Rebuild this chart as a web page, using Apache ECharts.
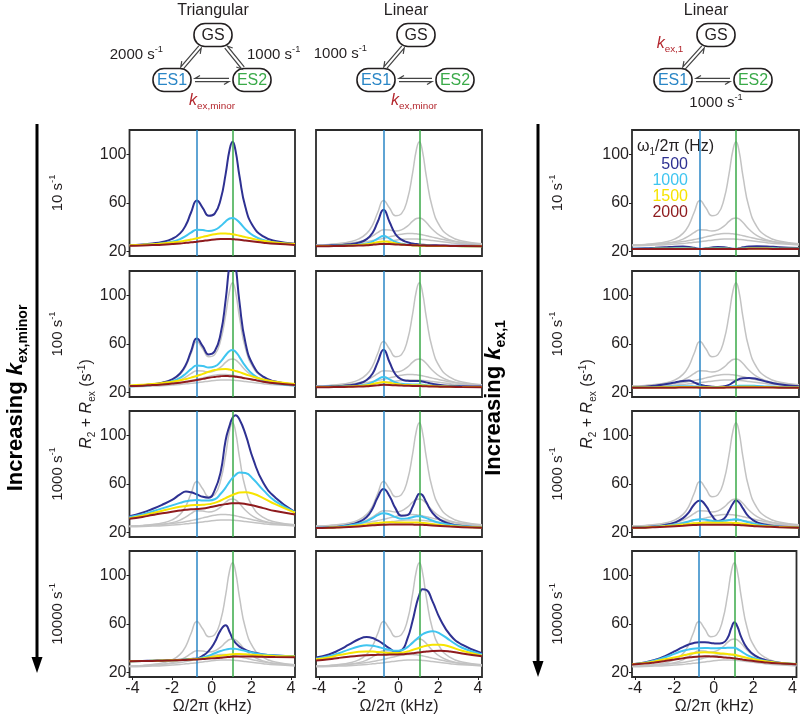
<!DOCTYPE html>
<html>
<head>
<meta charset="utf-8">
<script src="https://cdn.jsdelivr.net/npm/echarts@6/dist/echarts.min.js"></script>
<style>
html, body { margin: 0; padding: 0; background: #fff; }
#main { width: 800px; height: 716px; }
</style>
</head>
<body>
<div id="main"></div>
<script>
// offsets (kHz) where every curve is sampled
var OMEGA = [-4.15, -3.5, -3, -2.5, -2, -1.6, -1.3, -1.05, -0.75, -0.45, -0.15, 0.15, 0.45, 0.7, 0.9, 1.05, 1.2, 1.4, 1.7, 2.1, 2.6, 3.2, 4.2];
var ES1_SHIFT = -0.75;
var ES2_SHIFT = 1.05;
var X_TICKS = [-4, -2, 0, 2, 4];
var Y_TICKS = [20, 60, 100];
var FIELDS = ['500', '1000', '1500', '2000'];
var RATES = ['10', '100', '1000', '10000'];

// triangular model, k_ex,minor = 10 / 100 / 1000 / 10000 s-1
var tri10_500 = [25.4, 26.0, 26.8, 28.0, 30.6, 35.1, 42.1, 52.0, 62.0, 55.9, 49.5, 51.3, 63.1, 83.8, 103.8, 110.3, 103.1, 82.0, 56.5, 40.5, 32.6, 28.8, 26.5];
var tri10_1000 = [25.4, 25.8, 26.2, 26.9, 28.3, 30.4, 33.0, 35.7, 38.1, 37.8, 37.0, 38.0, 41.1, 44.9, 47.3, 47.8, 46.9, 44.0, 38.5, 33.2, 29.6, 27.5, 26.1];
var tri10_1500 = [25.4, 25.8, 26.2, 26.8, 27.6, 28.4, 29.2, 30.0, 31.0, 32.2, 33.4, 34.4, 34.9, 35.0, 34.7, 34.4, 33.9, 33.2, 32.0, 30.5, 28.9, 27.6, 26.3];
var tri10_2000 = [25.0, 25.2, 25.5, 25.8, 26.3, 26.8, 27.3, 27.7, 28.3, 28.9, 29.5, 30.0, 30.4, 30.5, 30.4, 30.3, 30.1, 29.8, 29.2, 28.4, 27.4, 26.5, 25.6];

var tri100_500 = [25.5, 26.2, 26.9, 28.3, 31.0, 35.8, 43.3, 53.8, 64.5, 58.1, 51.5, 54.0, 68.6, 96.1, 125.9, 136.4, 125.1, 94.2, 61.0, 42.1, 33.2, 29.2, 26.6];
var tri100_1000 = [25.2, 25.7, 26.4, 27.4, 29.4, 32.3, 35.8, 39.4, 42.3, 41.9, 40.7, 41.6, 45.6, 50.8, 54.3, 55.1, 53.7, 49.3, 41.8, 34.7, 30.2, 27.6, 25.9];
var tri100_1500 = [26.0, 26.5, 27.1, 28.0, 29.0, 30.2, 31.3, 32.4, 33.8, 35.5, 37.2, 38.6, 39.3, 39.4, 39.0, 38.6, 37.9, 36.9, 35.2, 33.1, 30.9, 29.0, 27.2];
var tri100_2000 = [25.5, 25.8, 26.3, 26.7, 27.5, 28.2, 29.0, 29.6, 30.5, 31.4, 32.3, 33.0, 33.6, 33.8, 33.6, 33.5, 33.2, 32.7, 31.8, 30.6, 29.1, 27.8, 26.4];

var tri1000_500 = [33.5, 36.5, 39.5, 43.0, 47.0, 51.5, 53.8, 53.2, 51.5, 49.5, 48.8, 55.0, 70.0, 96.0, 108.0, 114.5, 116.5, 113.0, 101.0, 80.0, 61.0, 49.0, 37.0];
var tri1000_1000 = [33.0, 35.0, 37.5, 40.0, 42.5, 44.5, 45.8, 46.5, 46.8, 46.5, 46.5, 47.5, 52.0, 57.0, 62.0, 65.0, 67.5, 69.5, 69.0, 64.0, 55.0, 46.0, 37.0];
var tri1000_1500 = [32.0, 34.0, 36.0, 38.0, 40.0, 41.3, 42.0, 42.5, 42.8, 43.0, 43.5, 44.5, 46.5, 48.5, 50.0, 51.0, 52.0, 53.0, 53.3, 52.0, 48.5, 43.5, 36.5];
var tri1000_2000 = [31.5, 33.0, 34.5, 36.0, 37.3, 38.2, 38.8, 39.2, 39.5, 40.0, 40.8, 41.8, 42.8, 43.5, 44.0, 44.2, 44.3, 44.2, 43.6, 42.3, 40.2, 37.8, 35.0];

var tri10000_500 = [29.5, 29.7, 29.9, 30.1, 30.4, 30.7, 31.0, 31.3, 31.8, 34.0, 38.0, 45.0, 55.0, 59.0, 53.5, 48.0, 44.5, 41.5, 38.8, 36.6, 35.0, 34.2, 33.5];
var tri10000_1000 = [29.5, 29.6, 29.8, 30.0, 30.2, 30.5, 30.8, 31.0, 31.5, 32.5, 34.0, 36.0, 37.8, 39.0, 39.6, 39.8, 39.6, 39.0, 37.8, 36.3, 35.0, 34.2, 33.5];
var tri10000_1500 = [29.5, 29.6, 29.8, 30.0, 30.2, 30.4, 30.7, 31.0, 31.3, 31.8, 32.5, 33.3, 34.0, 34.6, 35.0, 35.2, 35.3, 35.3, 35.1, 34.7, 34.2, 33.8, 33.4];
var tri10000_2000 = [29.5, 29.6, 29.7, 29.9, 30.1, 30.3, 30.5, 30.7, 30.9, 31.2, 31.6, 32.0, 32.4, 32.8, 33.0, 33.2, 33.3, 33.4, 33.4, 33.3, 33.1, 32.9, 32.7];

// linear model, k_ex,minor varied
var lin10_500 = [25.0, 25.2, 25.5, 26.1, 27.5, 30.4, 35.6, 44.4, 54.5, 44.4, 34.4, 29.9, 27.8, 26.8, 26.3, 26.0, 25.8, 25.6, 25.4, 25.2, 25.0, 24.9, 24.7];
var lin10_1000 = [24.7, 24.8, 24.9, 25.1, 25.7, 26.7, 28.4, 30.8, 33.0, 30.8, 28.0, 26.5, 25.8, 25.4, 25.2, 25.1, 25.0, 24.9, 24.8, 24.8, 24.7, 24.6, 24.6];
var lin10_1500 = [24.7, 24.7, 24.9, 25.1, 25.5, 26.1, 27.0, 27.9, 28.5, 27.9, 26.8, 26.0, 25.5, 25.3, 25.1, 25.0, 25.0, 24.9, 24.8, 24.7, 24.7, 24.6, 24.6];
var lin10_2000 = [24.5, 24.6, 24.7, 24.9, 25.1, 25.4, 25.8, 26.1, 26.4, 26.3, 26.0, 25.8, 25.5, 25.4, 25.3, 25.2, 25.1, 25.0, 24.9, 24.9, 24.8, 24.7, 24.6];

var lin100_500 = [25.0, 25.2, 25.5, 26.1, 27.6, 30.5, 35.8, 45.0, 55.3, 45.0, 35.0, 31.0, 29.8, 29.6, 29.7, 29.7, 29.3, 28.5, 27.3, 26.3, 25.7, 25.4, 25.2];
var lin100_1000 = [24.8, 24.9, 25.0, 25.3, 25.8, 26.8, 28.6, 31.0, 33.0, 31.0, 28.5, 27.3, 26.9, 26.8, 26.8, 26.8, 26.6, 26.2, 25.7, 25.3, 25.1, 24.9, 24.8];
var lin100_1500 = [24.7, 24.8, 24.9, 25.1, 25.5, 26.1, 27.1, 28.0, 28.8, 28.2, 27.2, 26.6, 26.3, 26.2, 26.2, 26.1, 26.0, 25.8, 25.5, 25.2, 25.0, 24.8, 24.7];
var lin100_2000 = [24.5, 24.6, 24.7, 24.9, 25.1, 25.4, 25.8, 26.1, 26.5, 26.4, 26.1, 25.9, 25.7, 25.6, 25.6, 25.5, 25.4, 25.3, 25.1, 25.0, 24.9, 24.7, 24.6];

var lin1000_500 = [23.8, 24.3, 25.0, 26.3, 28.8, 33.0, 40.0, 49.0, 56.0, 50.0, 40.0, 34.0, 34.5, 41.0, 48.5, 52.0, 51.0, 45.0, 36.5, 30.5, 27.3, 25.5, 24.3];
var lin1000_1000 = [24.0, 24.4, 25.0, 26.0, 27.5, 29.5, 32.0, 34.5, 36.0, 35.0, 32.8, 31.5, 31.8, 32.8, 33.5, 33.6, 33.2, 32.0, 30.0, 28.0, 26.5, 25.3, 24.5];
var lin1000_1500 = [23.9, 24.2, 24.6, 25.2, 26.0, 26.8, 27.5, 28.0, 28.5, 28.6, 28.5, 28.4, 28.4, 28.4, 28.4, 28.3, 28.1, 27.8, 27.2, 26.4, 25.6, 24.9, 24.3];
var lin1000_2000 = [23.8, 24.0, 24.3, 24.7, 25.2, 25.7, 26.1, 26.4, 26.6, 26.7, 26.7, 26.7, 26.7, 26.7, 26.6, 26.6, 26.5, 26.3, 26.0, 25.6, 25.1, 24.6, 24.2];

var lin10000_500 = [32.5, 35.0, 38.5, 43.0, 47.5, 49.3, 48.5, 46.5, 43.5, 40.0, 37.5, 38.5, 48.0, 62.0, 76.0, 84.0, 88.5, 88.0, 79.0, 64.0, 51.0, 43.0, 36.0];
var lin10000_1000 = [31.5, 33.5, 36.0, 39.0, 41.5, 42.5, 42.2, 41.3, 40.0, 38.8, 38.0, 38.5, 41.0, 44.5, 47.5, 49.5, 51.5, 53.0, 54.0, 52.0, 46.5, 40.5, 35.0];
var lin10000_1500 = [31.0, 32.5, 34.5, 36.0, 37.2, 37.5, 37.4, 37.0, 36.7, 36.3, 36.2, 36.5, 37.5, 38.7, 39.7, 40.5, 41.3, 42.2, 43.0, 43.0, 41.3, 38.0, 34.0];
var lin10000_2000 = [30.0, 31.0, 32.2, 33.2, 34.0, 34.4, 34.6, 34.7, 34.8, 34.9, 35.0, 35.2, 35.6, 36.0, 36.4, 36.7, 37.0, 37.4, 37.8, 38.0, 37.4, 35.8, 33.5];

// linear model, k_ex,1 varied
var k10_500 = [22.5, 22.8, 23.2, 23.7, 24.2, 24.3, 24.0, 23.2, 22.3, 22.8, 23.5, 23.8, 23.6, 23.0, 22.4, 22.3, 22.8, 23.6, 24.3, 24.6, 24.4, 23.7, 23.0];
var k10_1000 = [22.4, 22.5, 22.6, 22.7, 22.8, 22.8, 22.7, 22.5, 22.3, 22.5, 22.7, 22.8, 22.7, 22.5, 22.3, 22.3, 22.5, 22.7, 22.9, 23.0, 22.9, 22.7, 22.5];
var k10_1500 = [22.3, 22.3, 22.4, 22.4, 22.5, 22.5, 22.5, 22.4, 22.3, 22.4, 22.5, 22.5, 22.5, 22.4, 22.3, 22.3, 22.4, 22.5, 22.6, 22.6, 22.6, 22.5, 22.4];
var k10_2000 = [22.2, 22.2, 22.2, 22.3, 22.3, 22.3, 22.3, 22.3, 22.2, 22.3, 22.3, 22.3, 22.3, 22.3, 22.2, 22.2, 22.3, 22.3, 22.4, 22.4, 22.4, 22.3, 22.3];

var k100_500 = [24.5, 25.0, 25.8, 27.0, 28.5, 29.7, 30.0, 28.5, 26.5, 25.5, 25.0, 24.8, 25.3, 26.5, 28.5, 30.0, 31.2, 32.0, 32.2, 31.3, 29.0, 27.0, 25.3];
var k100_1000 = [24.4, 24.5, 24.7, 24.9, 25.2, 25.4, 25.4, 25.2, 24.9, 24.8, 24.7, 24.7, 24.8, 25.0, 25.3, 25.5, 25.7, 25.8, 25.8, 25.6, 25.2, 24.8, 24.5];
var k100_1500 = [24.3, 24.3, 24.4, 24.5, 24.6, 24.7, 24.7, 24.6, 24.5, 24.5, 24.4, 24.4, 24.5, 24.6, 24.7, 24.8, 24.9, 24.9, 24.9, 24.8, 24.7, 24.5, 24.4];
var k100_2000 = [24.1, 24.1, 24.1, 24.2, 24.2, 24.3, 24.3, 24.3, 24.2, 24.2, 24.2, 24.2, 24.2, 24.3, 24.3, 24.3, 24.4, 24.4, 24.4, 24.4, 24.3, 24.2, 24.1];

var k1000_500 = [24.2, 24.6, 25.2, 26.3, 28.5, 32.0, 37.0, 43.0, 46.5, 42.0, 34.0, 29.5, 31.5, 38.0, 44.0, 46.5, 45.0, 40.0, 33.0, 28.5, 26.3, 25.2, 24.5];
var k1000_1000 = [24.2, 24.5, 25.0, 25.7, 26.7, 28.0, 29.3, 30.4, 31.0, 30.6, 29.8, 29.5, 29.8, 30.4, 30.9, 31.0, 30.7, 29.9, 28.5, 27.0, 25.8, 25.0, 24.4];
var k1000_1500 = [24.1, 24.4, 24.8, 25.3, 26.0, 26.7, 27.3, 27.8, 28.1, 28.2, 28.2, 28.2, 28.2, 28.2, 28.1, 28.0, 27.8, 27.4, 26.8, 26.0, 25.3, 24.7, 24.3];
var k1000_2000 = [24.0, 24.2, 24.5, 24.9, 25.4, 25.8, 26.1, 26.3, 26.5, 26.6, 26.6, 26.6, 26.6, 26.6, 26.5, 26.4, 26.3, 26.1, 25.8, 25.4, 25.0, 24.6, 24.2];

var k10000_500 = [27.0, 28.5, 30.5, 33.5, 37.5, 40.8, 43.0, 44.3, 45.0, 45.0, 44.5, 44.0, 44.5, 48.5, 57.0, 61.5, 58.0, 49.0, 40.0, 34.0, 30.5, 28.5, 27.0];
var k10000_1000 = [27.0, 28.3, 30.0, 32.5, 35.5, 37.8, 39.0, 39.8, 40.2, 40.3, 40.2, 40.2, 40.3, 40.5, 40.6, 40.5, 39.5, 37.5, 34.5, 31.8, 29.6, 28.3, 27.2];
var k10000_1500 = [27.0, 28.0, 29.3, 31.0, 32.5, 34.0, 35.2, 36.0, 36.6, 36.8, 36.6, 36.2, 35.8, 35.4, 35.0, 34.7, 34.2, 33.4, 32.2, 30.8, 29.4, 28.3, 27.2];
var k10000_2000 = [26.8, 27.6, 28.5, 29.6, 30.8, 31.8, 32.5, 33.0, 33.3, 33.5, 33.4, 33.2, 32.8, 32.4, 32.1, 31.8, 31.5, 31.0, 30.3, 29.5, 28.5, 27.7, 27.0];

// gray reference curves = triangular model at 10 s-1
var REFERENCE = [tri10_500, tri10_1000, tri10_1500, tri10_2000];

var FONT = 'Liberation Sans, Arial, sans-serif';
var INK = '#231f20';
var COLORS = ['#2e3192', '#3fc5f0', '#f7e400', '#8e1b1e'];
var GRAY = '#c3c3c3';
var BLUE = '#2a86c6';
var GREEN = '#3aaa49';
var RED = '#b3262d';

var COL_LEFT = [129.5, 316, 632];
var COL_W = [165.5, 166, 167];
var ROW_TOP = [130, 271, 411, 551];
var ROW_H = 126;

var panels = [
    { c: 0, r: 0, curves: [tri10_500, tri10_1000, tri10_1500, tri10_2000], gray: false },
    { c: 0, r: 1, curves: [tri100_500, tri100_1000, tri100_1500, tri100_2000], gray: true },
    { c: 0, r: 2, curves: [tri1000_500, tri1000_1000, tri1000_1500, tri1000_2000], gray: true },
    { c: 0, r: 3, curves: [tri10000_500, tri10000_1000, tri10000_1500, tri10000_2000], gray: true },
    { c: 1, r: 0, curves: [lin10_500, lin10_1000, lin10_1500, lin10_2000], gray: true },
    { c: 1, r: 1, curves: [lin100_500, lin100_1000, lin100_1500, lin100_2000], gray: true },
    { c: 1, r: 2, curves: [lin1000_500, lin1000_1000, lin1000_1500, lin1000_2000], gray: true },
    { c: 1, r: 3, curves: [lin10000_500, lin10000_1000, lin10000_1500, lin10000_2000], gray: true },
    { c: 2, r: 0, curves: [k10_500, k10_1000, k10_1500, k10_2000], gray: true },
    { c: 2, r: 1, curves: [k100_500, k100_1000, k100_1500, k100_2000], gray: true },
    { c: 2, r: 2, curves: [k1000_500, k1000_1000, k1000_1500, k1000_2000], gray: true },
    { c: 2, r: 3, curves: [k10000_500, k10000_1000, k10000_1500, k10000_2000], gray: true }
];

function pairs(ys) {
    return OMEGA.map(function (x, i) { return [x, ys[i]]; });
}

var grids = [], xAxes = [], yAxes = [], series = [];
panels.forEach(function (p, i) {
    grids.push({
        left: COL_LEFT[p.c], top: ROW_TOP[p.r], width: COL_W[p.c], height: ROW_H,
        show: true, borderColor: '#2b2b2b', borderWidth: 1.8, backgroundColor: 'transparent'
    });
    var bottom = p.r === 3;
    xAxes.push({
        gridIndex: i, type: 'value', min: -4.15, max: 4.2, position: 'bottom',
        axisLine: { show: false, onZero: false }, splitLine: { show: false },
        axisTick: { show: bottom, customValues: X_TICKS, length: 3, lineStyle: { color: INK } },
        axisLabel: { show: bottom, customValues: X_TICKS, fontSize: 16, color: INK, margin: 4, fontFamily: FONT },
        name: bottom ? 'Ω/2π (kHz)' : '', nameLocation: 'middle', nameGap: 22,
        nameTextStyle: { fontSize: 16, color: INK, fontFamily: FONT }
    });
    var labelled = p.c !== 1;
    yAxes.push({
        gridIndex: i, type: 'value', min: 16.5, max: 120, position: 'left',
        axisLine: { show: false, onZero: false }, splitLine: { show: false },
        axisTick: { show: labelled, customValues: Y_TICKS, length: 3, lineStyle: { color: INK } },
        axisLabel: { show: labelled, customValues: Y_TICKS, fontSize: 16, color: INK, margin: 3, fontFamily: FONT }
    });
    if (p.gray) {
        REFERENCE.forEach(function (ref) {
            series.push({
                type: 'line', xAxisIndex: i, yAxisIndex: i, data: pairs(ref), smooth: true,
                showSymbol: false, silent: true, z: 2, lineStyle: { color: GRAY, width: 1.5 }
            });
        });
    }
    series.push({
        type: 'line', xAxisIndex: i, yAxisIndex: i, data: [], z: 3, silent: true,
        markLine: {
            silent: true, symbol: ['none', 'none'], label: { show: false }, animation: false,
            data: [
                { xAxis: ES1_SHIFT, lineStyle: { color: BLUE, width: 1.5, type: 'solid' } },
                { xAxis: ES2_SHIFT, lineStyle: { color: GREEN, width: 1.5, type: 'solid' } }
            ]
        }
    });
    p.curves.forEach(function (ys, k) {
        series.push({
            type: 'line', name: FIELDS[k], xAxisIndex: i, yAxisIndex: i, data: pairs(ys), smooth: true,
            showSymbol: false, silent: true, z: 4 + k, lineStyle: { color: COLORS[k], width: 2 }
        });
    });
});

// ---------- drawn annotations ----------
var g = [];
function txt(x, y, text, rich, opts) {
    opts = opts || {};
    g.push({
        type: 'text', x: x, y: y, rotation: opts.rot || 0, silent: true,
        style: {
            text: text, rich: rich, align: opts.align || 'center', verticalAlign: 'middle',
            fontFamily: FONT, fontSize: opts.size || 16, fill: opts.fill || INK,
            fontWeight: opts.weight || 'normal'
        }
    });
}
function unitRich(size, color) {
    return {
        n: { fontSize: size, fill: color, fontFamily: FONT, lineHeight: 20 },
        sup: { fontSize: size * 0.62, fill: color, fontFamily: FONT, lineHeight: 11, verticalAlign: 'top' }
    };
}
function rateText(x, y, value, align, size, rot) {
    txt(x, y, '{n|' + value + ' s}{sup|-1}', unitRich(size || 15, INK), { align: align, rot: rot });
}
function kText(x, y, sub, size) {
    txt(x, y, '{k|k}{s|' + sub + '}', {
        k: { fontSize: size, fontStyle: 'italic', fill: RED, fontFamily: FONT, lineHeight: 20 },
        s: { fontSize: size * 0.62, fill: RED, fontFamily: FONT, lineHeight: 10, verticalAlign: 'bottom' }
    });
}
function stateBox(cx, cy, label, color) {
    g.push({
        type: 'rect', silent: true,
        shape: { x: cx - 19, y: cy - 11.5, width: 38, height: 23, r: 11 },
        style: { fill: '#fff', stroke: INK, lineWidth: 1.6 }
    });
    txt(cx, cy + 0.5, label, null, { size: 16, fill: color });
}
function harpoons(x1, y1, x2, y2) {
    var dx = x2 - x1, dy = y2 - y1, L = Math.sqrt(dx * dx + dy * dy);
    var ux = dx / L, uy = dy / L, px = -uy, py = ux, o = 1.6, h = 5;
    var a1 = [x1 + px * o, y1 + py * o], a2 = [x2 + px * o, y2 + py * o];
    var aB = [a2[0] - ux * h + px * h * 0.6, a2[1] - uy * h + py * h * 0.6];
    var b1 = [x2 - px * o, y2 - py * o], b2 = [x1 - px * o, y1 - py * o];
    var bB = [b2[0] + ux * h - px * h * 0.6, b2[1] + uy * h - py * h * 0.6];
    [[a1, a2, aB], [b1, b2, bB]].forEach(function (pts) {
        g.push({ type: 'polyline', silent: true, shape: { points: pts }, style: { stroke: '#444', lineWidth: 1.2, fill: null } });
    });
}
function downArrow(x, y1, y2) {
    g.push({ type: 'line', silent: true, shape: { x1: x, y1: y1, x2: x, y2: y2 - 14 }, style: { stroke: '#000', lineWidth: 3 } });
    g.push({ type: 'polygon', silent: true, shape: { points: [[x - 5.5, y2 - 16], [x + 5.5, y2 - 16], [x, y2]] }, style: { fill: '#000' } });
}

// column titles
txt(213, 11, 'Triangular', null, { size: 16 });
txt(406, 11, 'Linear', null, { size: 16 });
txt(706, 11, 'Linear', null, { size: 16 });

// triangular scheme
stateBox(213, 35, 'GS', INK); stateBox(172, 80, 'ES1', BLUE); stateBox(252, 80, 'ES2', GREEN);
harpoons(200, 47, 182, 68); harpoons(226, 47, 243, 68); harpoons(195, 80, 229, 80);
rateText(163, 55, '2000', 'right'); rateText(247, 55, '1000', 'left');
kText(212, 101, 'ex,minor', 16);

// linear scheme (k_ex,minor)
stateBox(416, 35, 'GS', INK); stateBox(376, 80, 'ES1', BLUE); stateBox(455, 80, 'ES2', GREEN);
harpoons(403, 47, 385, 68); harpoons(399, 80, 432, 80);
rateText(367, 54, '1000', 'right');
kText(414, 101, 'ex,minor', 16);

// linear scheme (k_ex,1)
stateBox(716, 35, 'GS', INK); stateBox(673, 80, 'ES1', BLUE); stateBox(753, 80, 'ES2', GREEN);
harpoons(703, 47, 684, 68); harpoons(696, 80, 730, 80);
kText(670, 44, 'ex,1', 16);
rateText(716, 103, '1000', 'center');

// side annotations
var boldRich = {
    b: { fontSize: 22, fontWeight: 'bold', fill: '#000', fontFamily: FONT, lineHeight: 28 },
    k: { fontSize: 22, fontWeight: 'bold', fontStyle: 'italic', fill: '#000', fontFamily: FONT, lineHeight: 28 },
    s: { fontSize: 14, fontWeight: 'bold', fill: '#000', fontFamily: FONT, lineHeight: 13, verticalAlign: 'bottom' }
};
txt(16, 398, '{b|Increasing }{k|k}{s|ex,minor}', boldRich, { rot: Math.PI / 2 });
txt(494, 398, '{b|Increasing }{k|k}{s|ex,1}', boldRich, { rot: Math.PI / 2 });
downArrow(37, 124, 673);
downArrow(538, 124, 677);

var rowMid = ROW_TOP.map(function (t) { return t + ROW_H / 2; });
RATES.forEach(function (r, i) {
    rateText(58, rowMid[i], r, 'center', 15, Math.PI / 2);
    rateText(558, rowMid[i], r, 'center', 15, Math.PI / 2);
});

var yNameRich = {
    i: { fontSize: 16, fontStyle: 'italic', fill: INK, fontFamily: FONT, lineHeight: 20 },
    n: { fontSize: 16, fill: INK, fontFamily: FONT, lineHeight: 20 },
    sub: { fontSize: 10, fill: INK, fontFamily: FONT, lineHeight: 10, verticalAlign: 'bottom' },
    sup: { fontSize: 10, fill: INK, fontFamily: FONT, lineHeight: 11, verticalAlign: 'top' }
};
var yName = '{i|R}{sub|2}{n| + }{i|R}{sub|ex}{n| (s}{sup|-1}{n|)}';
txt(87, 404, yName, yNameRich, { rot: Math.PI / 2 });
txt(588, 404, yName, yNameRich, { rot: Math.PI / 2 });

// field strength key
txt(637, 147, '{n|ω}{sub|1}{n|/2π (Hz)}', yNameRich, { align: 'left' });
FIELDS.forEach(function (f, k) {
    txt(688, 165 + k * 16, f, null, { align: 'right', size: 16, fill: COLORS[k] });
});

var myChart = echarts.init(document.getElementById('main'));
var option = {
    animation: false,
    backgroundColor: '#fff',
    grid: grids,
    xAxis: xAxes,
    yAxis: yAxes,
    series: series,
    graphic: g
};
myChart.setOption(option);
</script>
</body>
</html>
